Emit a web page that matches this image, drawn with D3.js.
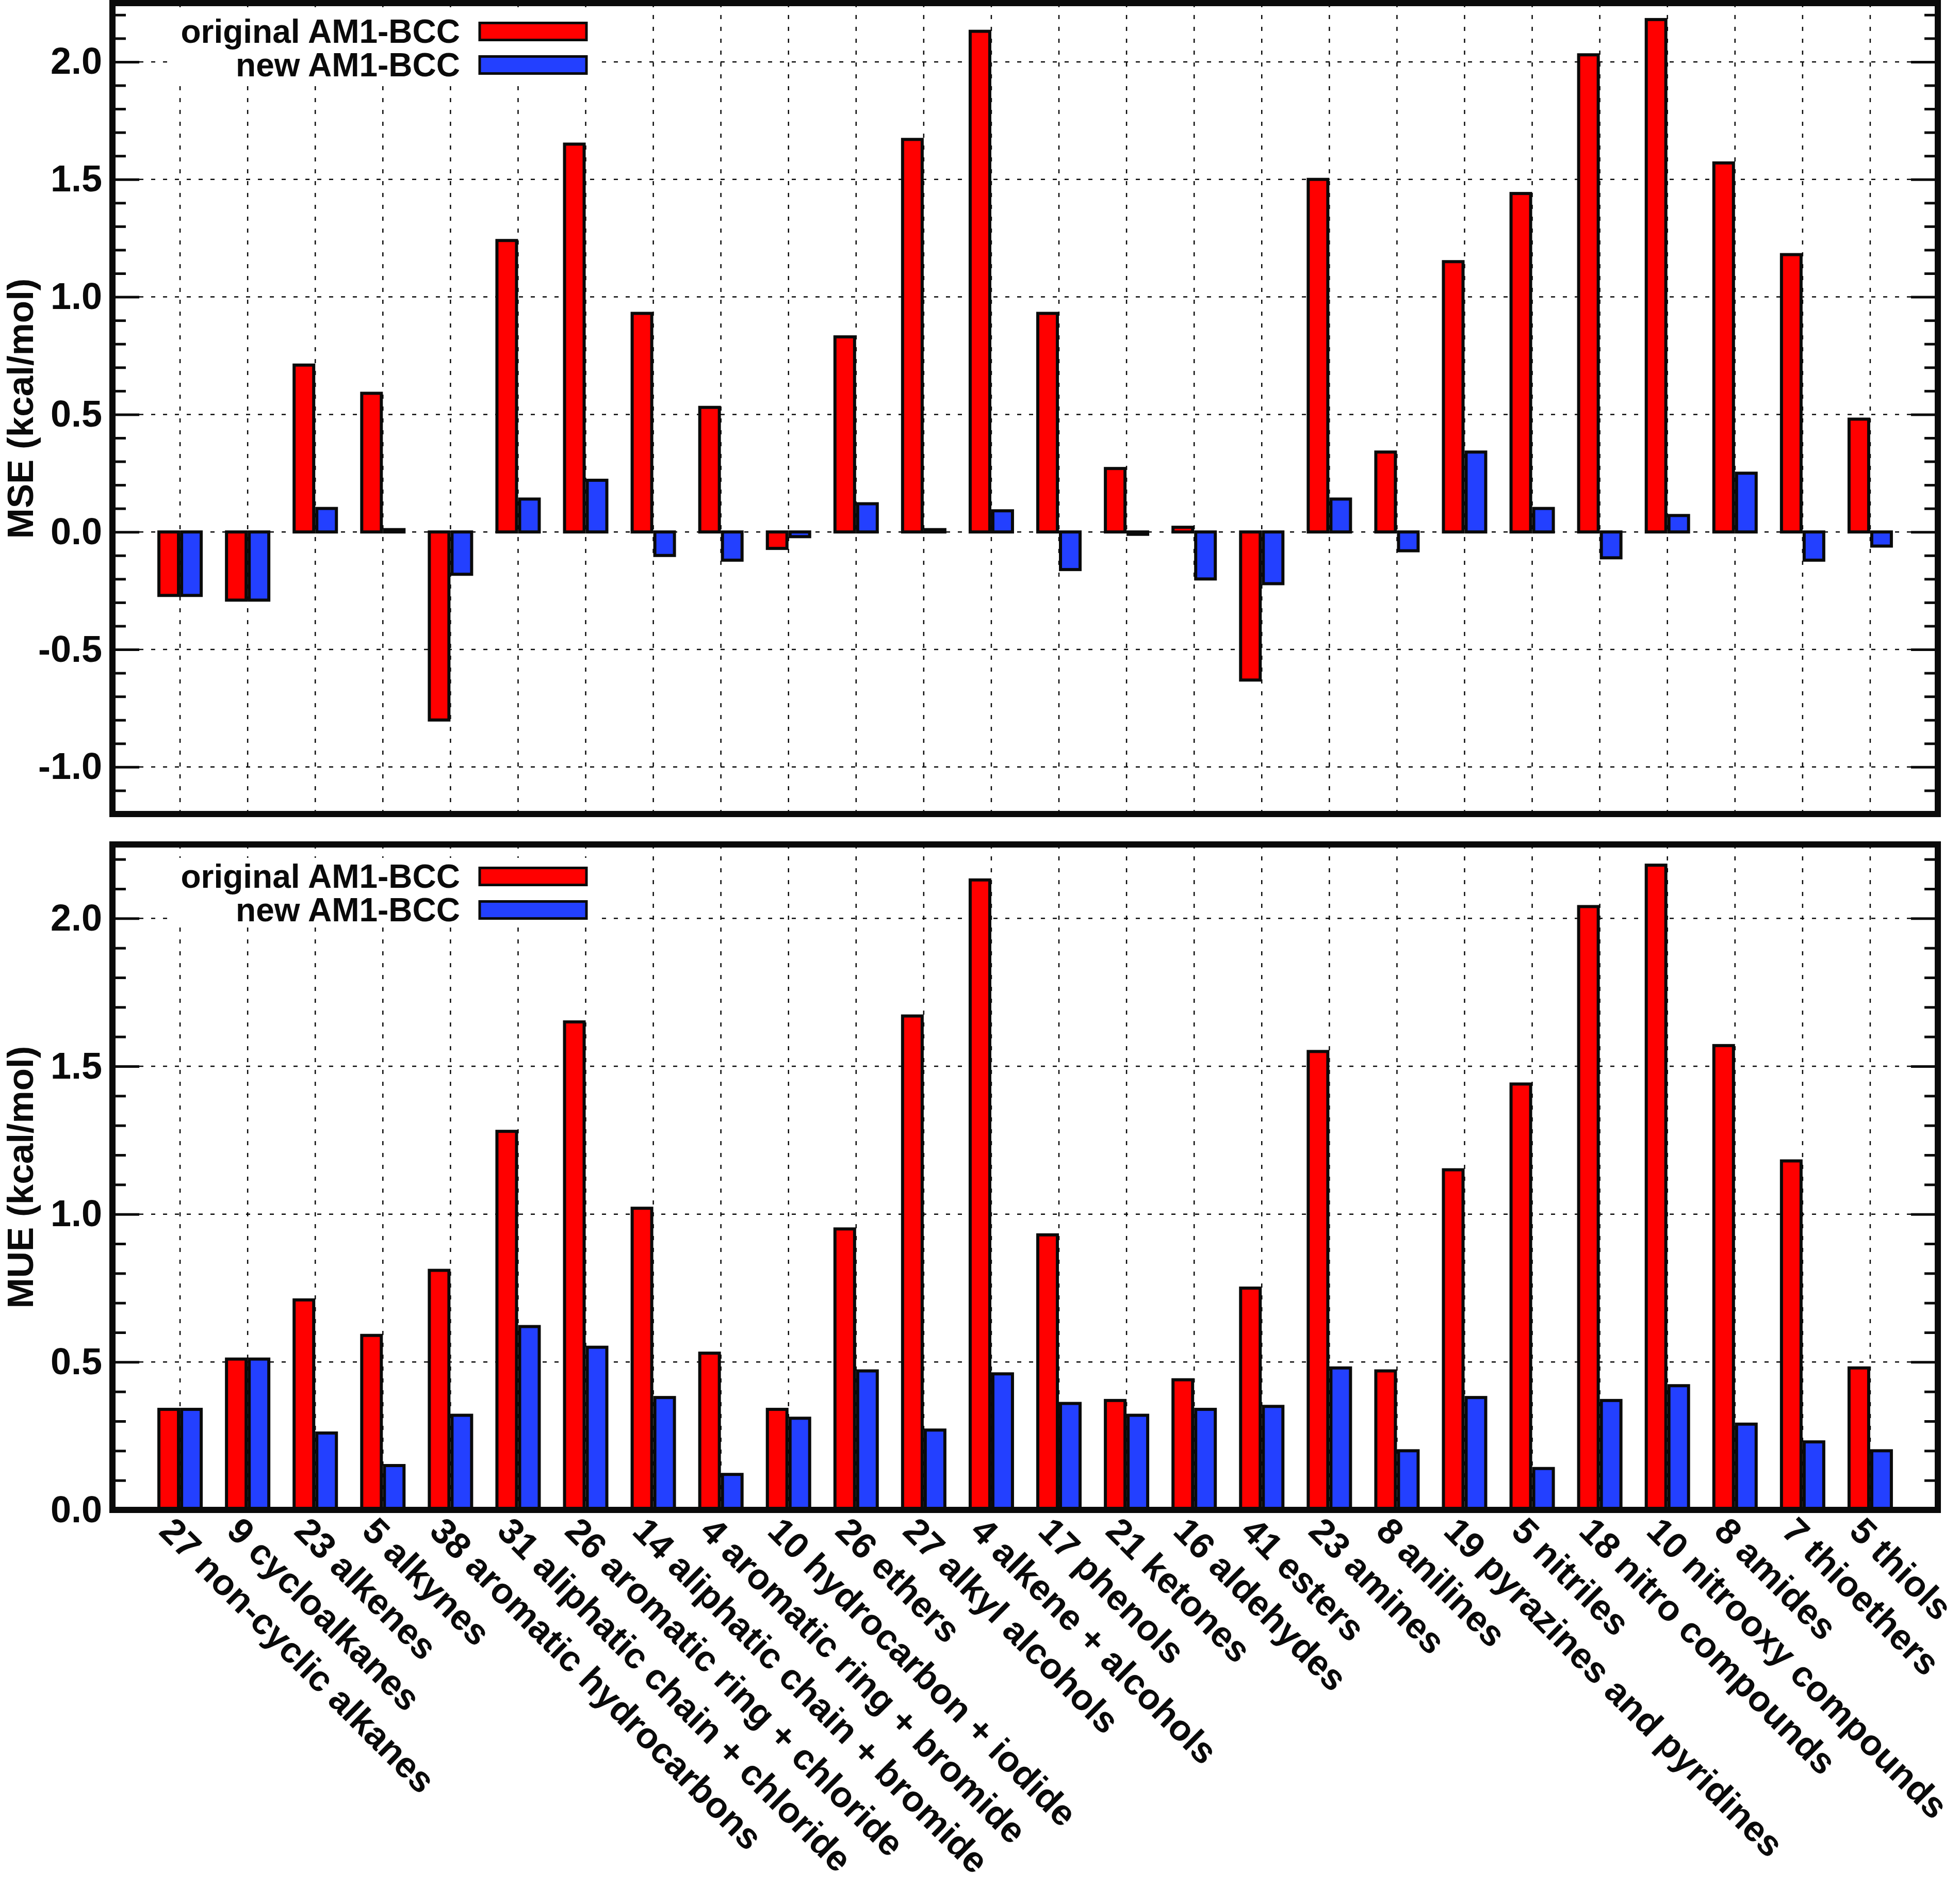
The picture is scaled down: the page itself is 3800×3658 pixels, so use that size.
<!DOCTYPE html>
<html>
<head>
<meta charset="utf-8">
<script src="https://cdn.jsdelivr.net/npm/d3@7"></script>
<style>
  html, body { margin: 0; padding: 0; background: #fff; }
  svg text { font-family: "Liberation Sans", Arial, Helvetica, sans-serif; font-weight: bold; fill: #0a0a0a; }
</style>
</head>
<body>
<div id="chart"></div>
<script>
// Categories (number of molecules + functional group)
const categories = [
  "27 non-cyclic alkanes", "9 cycloalkanes", "23 alkenes", "5 alkynes",
  "38 aromatic hydrocarbons", "31 aliphatic chain + chloride", "26 aromatic ring + chloride",
  "14 aliphatic chain + bromide", "4 aromatic ring + bromide", "10 hydrocarbon + iodide",
  "26 ethers", "27 alkyl alcohols", "4 alkene + alcohols", "17 phenols", "21 ketones",
  "16 aldehydes", "41 esters", "23 amines", "8 anilines", "19 pyrazines and pyridines",
  "5 nitriles", "18 nitro compounds", "10 nitrooxy compounds", "8 amides", "7 thioethers", "5 thiols"
]

// Mean signed error (kcal/mol)
const mseOriginal = [-0.27, -0.29, 0.71, 0.59, -0.80, 1.24, 1.65, 0.93, 0.53, -0.07,
  0.83, 1.67, 2.13, 0.93, 0.27, 0.02, -0.63, 1.50, 0.34, 1.15, 1.44, 2.03, 2.18, 1.57, 1.18, 0.48]
const mseNew = [-0.27, -0.29, 0.10, 0.01, -0.18, 0.14, 0.22, -0.10, -0.12, -0.02,
  0.12, 0.01, 0.09, -0.16, -0.01, -0.20, -0.22, 0.14, -0.08, 0.34, 0.10, -0.11, 0.07, 0.25, -0.12, -0.06]

// Mean unsigned error (kcal/mol)
const mueOriginal = [0.34, 0.51, 0.71, 0.59, 0.81, 1.28, 1.65, 1.02, 0.53, 0.34,
  0.95, 1.67, 2.13, 0.93, 0.37, 0.44, 0.75, 1.55, 0.47, 1.15, 1.44, 2.04, 2.18, 1.57, 1.18, 0.48]
const mueNew = [0.34, 0.51, 0.26, 0.15, 0.32, 0.62, 0.55, 0.38, 0.12, 0.31,
  0.47, 0.27, 0.46, 0.36, 0.32, 0.34, 0.35, 0.48, 0.20, 0.38, 0.14, 0.37, 0.42, 0.29, 0.23, 0.20]

const seriesNames = ["original AM1-BCC", "new AM1-BCC"]
const seriesColors = ["#ff0000", "#2340ff"]

const mseTicks = [-1.0, -0.5, 0.0, 0.5, 1.0, 1.5, 2.0]
const mueTicks = [0.0, 0.5, 1.0, 1.5, 2.0]

// Page and frame geometry
const width = 3800, height = 3658
const left = 218, right = 3757
const ink = "#0a0a0a"

const svg = d3.select("#chart").append("svg")
  .attr("width", width).attr("height", height)
  .attr("viewBox", `0 0 ${width} ${height}`)

// One category slot on each side of the data
const x = d3.scalePoint().domain(categories).range([left, right]).padding(1)
const sub = d3.scaleBand().domain([0, 1]).range([-44, 44])

drawPanel({
  top: 6, bottom: 1578, domain: [-1.2, 2.25], ticks: mseTicks,
  values: [mseOriginal, mseNew], label: "MSE (kcal/mol)", legendY: 83
})
drawPanel({
  top: 1637, bottom: 2927, domain: [0, 2.25], ticks: mueTicks,
  values: [mueOriginal, mueNew], label: "MUE (kcal/mol)", legendY: 1721
})

// Rotated category labels under the bottom panel
svg.append("g").selectAll("text")
  .data(categories)
  .join("text")
    .attr("transform", d => `translate(${x(d) - 8},2936) rotate(45)`)
    .attr("dy", "0.72em")
    .attr("font-size", 70)
    .text(d => d)

function drawPanel(p) {
  const g = svg.append("g")
  const y = d3.scaleLinear().domain(p.domain).range([p.bottom, p.top])

  // Minor ticks every 0.1, not on the major ones
  const minor = d3.range(Math.ceil(p.domain[0] * 10), Math.floor(p.domain[1] * 10) + 1)
    .map(d => d / 10)
    .filter(d => !p.ticks.some(t => Math.abs(t - d) < 1e-6))

  // Dashed grid
  g.append("g").selectAll("line")
    .data(p.ticks)
    .join("line")
      .attr("x1", left + 52).attr("x2", right - 52)
      .attr("y1", d => y(d)).attr("y2", d => y(d))
      .attr("stroke", ink).attr("stroke-width", 2.5)
      .attr("stroke-dasharray", "8,15")
  g.append("g").selectAll("line")
    .data(categories)
    .join("line")
      .attr("x1", d => x(d)).attr("x2", d => x(d))
      .attr("y1", p.top).attr("y2", p.bottom)
      .attr("stroke", ink).attr("stroke-width", 2.5)
      .attr("stroke-dasharray", "8,15")

  // Bars, two per category
  const rows = categories.map((c, i) => ({ cat: c, vals: p.values.map((s, k) => ({ k: k, v: s[i] })) }))
  g.append("g").selectAll("g")
    .data(rows)
    .join("g")
      .attr("transform", d => `translate(${x(d.cat)},0)`)
    .selectAll("rect")
    .data(d => d.vals)
    .join("rect")
      .attr("x", d => sub(d.k) + 3)
      .attr("width", sub.bandwidth() - 6)
      .attr("y", d => y(Math.max(0, d.v)))
      .attr("height", d => Math.abs(y(d.v) - y(0)))
      .attr("fill", d => seriesColors[d.k])
      .attr("stroke", ink)
      .attr("stroke-width", 6)

  // Legend with a white box that hides the grid behind it
  g.append("rect")
    .attr("x", 335).attr("y", p.legendY - 58)
    .attr("width", 830).attr("height", 135)
    .attr("fill", "#fff")
  const key = g.append("g").selectAll("g")
    .data(seriesNames)
    .join("g")
      .attr("transform", (d, i) => `translate(0,${p.legendY + i * 65})`)
  key.append("text")
    .attr("x", 892).attr("text-anchor", "end")
    .attr("font-size", 64)
    .text(d => d)
  key.append("rect")
    .attr("x", 930).attr("y", -38.5)
    .attr("width", 207).attr("height", 33)
    .attr("fill", (d, i) => seriesColors[i])
    .attr("stroke", ink).attr("stroke-width", 5)

  // Axes: ticks point inwards on both sides
  const majorAxis = d3.axisLeft(y).tickValues(p.ticks)
    .tickSizeInner(-52).tickSizeOuter(0).tickPadding(20)
    .tickFormat(d => d.toFixed(1))
  const minorAxis = d3.axisLeft(y).tickValues(minor)
    .tickSizeInner(-26).tickSizeOuter(0).tickFormat("")
  const rightMajor = d3.axisRight(y).tickValues(p.ticks)
    .tickSizeInner(-52).tickSizeOuter(0).tickFormat("")
  const rightMinor = d3.axisRight(y).tickValues(minor)
    .tickSizeInner(-26).tickSizeOuter(0).tickFormat("")

  const axes = [
    [majorAxis, left], [minorAxis, left], [rightMajor, right], [rightMinor, right]
  ]
  axes.forEach(([ax, xpos]) => {
    const a = g.append("g").attr("transform", `translate(${xpos},0)`).call(ax)
    a.attr("font-size", null).attr("font-family", null)
    a.select(".domain").remove()
    a.selectAll(".tick line").attr("stroke", ink).attr("stroke-width", 5)
    a.selectAll(".tick text").attr("font-size", 72).attr("fill", ink)
  })

  // Frame
  g.append("rect")
    .attr("x", left).attr("y", p.top)
    .attr("width", right - left).attr("height", p.bottom - p.top)
    .attr("fill", "none").attr("stroke", ink).attr("stroke-width", 12)

  // Y axis title
  g.append("text")
    .attr("transform", `translate(64,${(p.top + p.bottom) / 2}) rotate(-90)`)
    .attr("text-anchor", "middle")
    .attr("font-size", 71)
    .text(p.label)
}
</script>
</body>
</html>
